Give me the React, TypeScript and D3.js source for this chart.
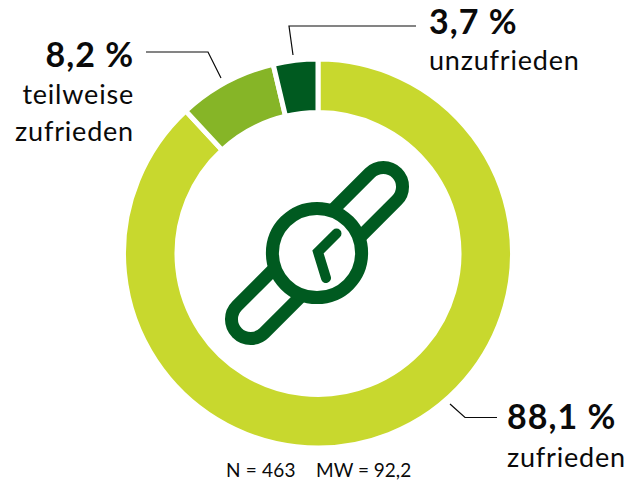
import React from "react";
import * as d3 from "d3";

const categories = ["zufrieden", "teilweise zufrieden", "unzufrieden"];
const shares = [88.1, 8.2, 3.7];
const colors = ["#C8D82E", "#86B527", "#005A20"];
const FONT = "Lato, sans-serif";
const INK = "#0A0A0A";
const DARK = "#005A20";

const labels = [
  { big: "8,2 %", small: ["teilweise", "zufrieden"], x: 134, anchor: "end", y: [67, 104, 141] },
  { big: "3,7 %", small: ["unzufrieden"], x: 429, anchor: "start", y: [34, 70] },
  { big: "88,1 %", small: ["zufrieden"], x: 507, anchor: "start", y: [429, 467] },
];
const leaders: [number, number][][] = [
  [[146, 52], [208, 52], [221, 78]],
  [[416, 26], [289, 26], [293, 55]],
  [[450, 404], [465, 417.5], [497, 417.5]],
];

export default function App() {
  const cx = 318, cy = 253.5;
  const pie = d3.pie<number>().sort(null).value((d) => d);
  const arc = d3.arc<d3.PieArcDatum<number>>().innerRadius(141).outerRadius(194.5);
  const line = d3.line();
  return (
    <svg width={642} height={485} style={{ position: "absolute", left: 0, top: 0, background: "#fff" }}>
      <g transform={`translate(${cx},${cy})`}>
        {pie(shares).map((d, i) => (
          <path key={categories[i]} d={arc(d) ?? ""} fill={colors[i]} stroke="#fff" strokeWidth={5} />
        ))}
      </g>
      <g transform={`translate(317,253)`}>
        <rect x={-113} y={-19.2} width={226} height={38.4} rx={19.2} fill="none" stroke={DARK} strokeWidth={13} transform="rotate(-45)" />
        <circle r={44.6} fill="#fff" stroke={DARK} strokeWidth={13} />
        <path d="M19.5,-19.5 L1,-1 L9,25" fill="none" stroke={DARK} strokeWidth={10} strokeLinecap="round" strokeLinejoin="miter" />
      </g>
      {leaders.map((l, i) => (
        <path key={i} d={line(l) ?? ""} fill="none" stroke={INK} strokeWidth={1.2} />
      ))}
      {labels.map((l) => (
        <g key={l.big} fontFamily={FONT} fill={INK} textAnchor={l.anchor}>
          <text x={l.x} y={l.y[0]} fontSize={34} fontWeight={700} letterSpacing={1}>{l.big}</text>
          {l.small.map((s, i) => (
            <text key={s} x={l.x} y={l.y[i + 1]} fontSize={27} letterSpacing={0.8}>{s}</text>
          ))}
        </g>
      ))}
      <text x={226} y={477} fontFamily={FONT} fontSize={19} letterSpacing={0.2} fill={INK}>N = 463</text>
      <text x={316} y={477} fontFamily={FONT} fontSize={19} letterSpacing={0} fill={INK}>MW = 92,2</text>
    </svg>
  );
}
